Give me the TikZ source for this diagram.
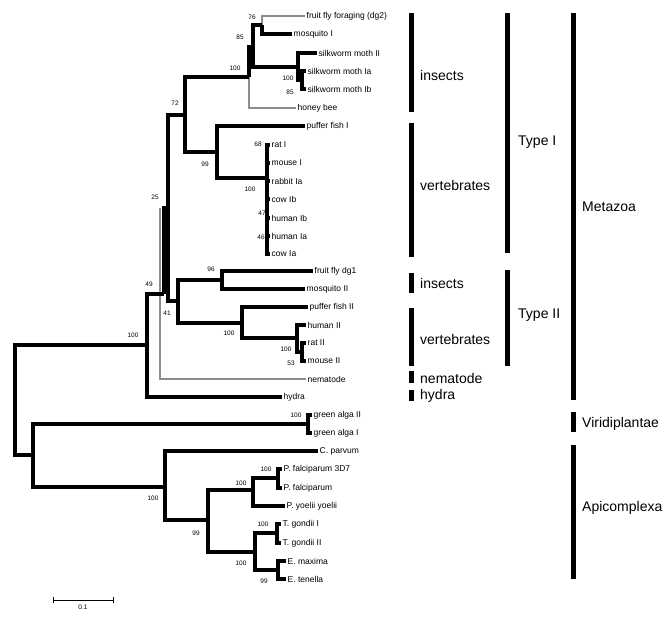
\documentclass[tikz,border=0pt]{standalone}
\usepackage{fontspec}
\setmainfont{Liberation Sans}
\usetikzlibrary{positioning}

\begin{document}
\begin{tikzpicture}[x=1pt, y=-1pt, line join=miter,
  br/.style={line width=3.5pt},
  gbr/.style={line width=2pt, draw=black!45},
  leaf/.style={anchor=west, inner sep=1.5pt, font=\fontsize{8.5}{9}\selectfont},
  bs/.style={inner sep=0pt, font=\fontsize{6.5}{7}\selectfont},
  bar/.style={line width=5pt},
  grp/.style={anchor=west, inner sep=0pt, font=\fontsize{14}{15}\selectfont}]
  \useasboundingbox (0,0) rectangle (669,620);

  % leaves
  \node[leaf] (ff2) at (305,16) {fruit fly foraging (dg2)};
  \node[leaf] (mq1) at (292,34) {mosquito I};
  \node[leaf] (sk2) at (317,53) {silkworm moth II};
  \node[leaf] (sk1a) at (306,71) {silkworm moth Ia};
  \node[leaf] (sk1b) at (306,89) {silkworm moth Ib};
  \node[leaf] (hb) at (296,108) {honey bee};
  \node[leaf] (pf1) at (305,126) {puffer fish I};
  \node[leaf] (rt1) at (270,145) {rat I};
  \node[leaf] (mo1) at (270,163) {mouse I};
  \node[leaf] (rb) at (270,181) {rabbit Ia};
  \node[leaf] (cwb) at (270,199) {cow Ib};
  \node[leaf] (hub) at (270,218) {human Ib};
  \node[leaf] (hua) at (270,236) {human Ia};
  \node[leaf] (cwa) at (270,254) {cow Ia};
  \node[leaf] (ff1) at (313,271) {fruit fly dg1};
  \node[leaf] (mq2) at (305,289) {mosquito II};
  \node[leaf] (pf2) at (308,307) {puffer fish II};
  \node[leaf] (hu2) at (306,325) {human II};
  \node[leaf] (rt2) at (306,343) {rat II};
  \node[leaf] (mo2) at (306,361) {mouse II};
  \node[leaf] (nem) at (306,379) {nematode};
  \node[leaf] (hyd) at (282,397) {hydra};
  \node[leaf] (ga2) at (312,415) {green alga II};
  \node[leaf] (ga1) at (312,433) {green alga I};
  \node[leaf] (cp) at (318,451) {C. parvum};
  \node[leaf] (pf3) at (282,469) {P. falciparum 3D7};
  \node[leaf] (pfa) at (282,488) {P. falciparum};
  \node[leaf] (pyy) at (285,506) {P. yoelii yoelii};
  \node[leaf] (tg1) at (281,524) {T. gondii I};
  \node[leaf] (tg2) at (281,543) {T. gondii II};
  \node[leaf] (emx) at (286,561) {E. maxima};
  \node[leaf] (etn) at (286,579) {E. tenella};

  % inner nodes
  \coordinate (root) at (15,400);
  \coordinate (meta) at (147,345);
  \coordinate (nA) at (164,294);
  \coordinate (nAg) at (160,294);
  \coordinate (nB) at (168,208);
  \coordinate (n72) at (185,115);
  \coordinate (n100i) at (249,77);
  \coordinate (n85) at (253,47);
  \coordinate (n76) at (262,25);
  \coordinate (nsk) at (298,67);
  \coordinate (nsk1) at (302,80);
  \coordinate (n99) at (217,152);
  \coordinate (nvt) at (267,178);
  \coordinate (n41) at (178,301);
  \coordinate (n96) at (222,280);
  \coordinate (nv2) at (242,323);
  \coordinate (nmm) at (297,338);
  \coordinate (nrm) at (302,352);
  \coordinate (nonmeta) at (33,455);
  \coordinate (nga) at (308,424);
  \coordinate (napi) at (165,487);
  \coordinate (n99a) at (208,520);
  \coordinate (npl) at (253,490);
  \coordinate (npf) at (278,478);
  \coordinate (ntx) at (255,552);
  \coordinate (ntg) at (277,533);
  \coordinate (nei) at (278,570);

  \draw[gbr] (n76) |- (ff2.west) (n100i) |- (hb.west)
    (nB -| nAg) |- (nem.west);

  \draw[br]
  (root) |- (meta) (root) |- (nonmeta)
  (meta) |- (nA) (meta) |- (hyd.west)
  (nA) |- (nB)
  (nB) |- (n72) (nB) |- (n41)
  (n72) |- (n100i) (n72) |- (n99)
  (n100i) |- (n85)
  (n85) |- (n76) (n85) |- (nsk)
  (n76) |- (mq1.west)
  (nsk) |- (sk2.west) (nsk) |- (nsk1)
  (nsk1) |- (sk1a.west) (nsk1) |- (sk1b.west)
  (n99) |- (pf1.west) (n99) |- (nvt)
  (nvt) |- (rt1.west) (nvt) |- (cwa.west)
  (nvt |- mo1) -- (mo1.west) (nvt |- rb) -- (rb.west)
  (nvt |- cwb) -- (cwb.west) (nvt |- hub) -- (hub.west)
  (nvt |- hua) -- (hua.west)
  (n41) |- (n96) (n41) |- (nv2)
  (n96) |- (ff1.west) (n96) |- (mq2.west)
  (nv2) |- (pf2.west) (nv2) |- (nmm)
  (nmm) |- (hu2.west) (nmm) |- (nrm)
  (nrm) |- (rt2.west) (nrm) |- (mo2.west)
  (nonmeta) |- (nga) (nonmeta) |- (napi)
  (nga) |- (ga2.west) (nga) |- (ga1.west)
  (napi) |- (cp.west) (napi) |- (n99a)
  (n99a) |- (npl) (n99a) |- (ntx)
  (npl) |- (npf) (npl) |- (pyy.west)
  (npf) |- (pf3.west) (npf) |- (pfa.west)
  (ntx) |- (ntg) (ntx) |- (nei)
  (ntg) |- (tg1.west) (ntg) |- (tg2.west)
  (nei) |- (emx.west) (nei) |- (etn.west);

  % bootstrap values
  \node[bs] (b1) at (133,335) {100};
  \node[bs] (b2) at (149,284) {49};
  \node[bs] (b3) at (167,313) {41};
  \node[bs] (b4) at (155,197) {25};
  \node[bs] (b5) at (175,103) {72};
  \node[bs] (b6) at (235,68) {100};
  \node[bs] (b7) at (240,37) {85};
  \node[bs] (b8) at (252,17) {76};
  \node[bs] (b9) at (288,78) {100};
  \node[bs] (b10) at (290,92) {85};
  \node[bs] (b11) at (205,164) {99};
  \node[bs] (b12) at (258,144) {68};
  \node[bs] (b13) at (250,189) {100};
  \node[bs] (b14) at (262,213) {47};
  \node[bs] (b15) at (261,237) {46};
  \node[bs] (b16) at (211,269) {96};
  \node[bs] (b17) at (229,333) {100};
  \node[bs] (b18) at (286,349) {100};
  \node[bs] (b19) at (291,363) {53};
  \node[bs] (b20) at (296,415) {100};
  \node[bs] (b21) at (153,498) {100};
  \node[bs] (b22) at (196,533) {99};
  \node[bs] (b23) at (241,483) {100};
  \node[bs] (b24) at (266,469) {100};
  \node[bs] (b25) at (241,563) {100};
  \node[bs] (b26) at (263,524) {100};
  \node[bs] (b27) at (264,581) {99};

  % groups
  \draw[bar] (411,13) -- (411,112);
  \draw[bar] (411,123) -- (411,257);
  \draw[bar] (411,273) -- (411,293);
  \draw[bar] (411,308) -- (411,366);
  \draw[bar] (411,371) -- (411,383);
  \draw[bar] (411,390) -- (411,401);
  \draw[bar] (507,13) -- (507,253);
  \draw[bar] (507,270) -- (507,366);
  \draw[bar] (573,13) -- (573,400);
  \draw[bar] (573,412) -- (573,432);
  \draw[bar] (573,445) -- (573,579);
  \node[grp] (g1) at (420,75) {insects};
  \node[grp] (g2) at (420,185) {vertebrates};
  \node[grp] (g3) at (420,283) {insects};
  \node[grp] (g4) at (420,339) {vertebrates};
  \node[grp] (g5) at (420,378) {nematode};
  \node[grp] (g6) at (420,396) {hydra};
  \node[grp] (t1) at (518,142) {Type I};
  \node[grp] (t2) at (518,315) {Type II};
  \node[grp] (k1) at (582,207) {Metazoa};
  \node[grp] (k2) at (582,424) {Viridiplantae};
  \node[grp] (k3) at (582,508) {Apicomplexa};

  % scale
  \coordinate (s0) at (53,600);
  \coordinate (s1) at (113,600);
  \draw[line width=1pt] (s0) -- (s1) coordinate[midway] (sm);
  \draw[line width=1pt] (s0) ++(0,-3) -- ++(0,6) (s1) ++(0,-3) -- ++(0,6);
  \node[bs] (sl) [below=5pt of sm] {0.1};
\end{tikzpicture}
\end{document}
